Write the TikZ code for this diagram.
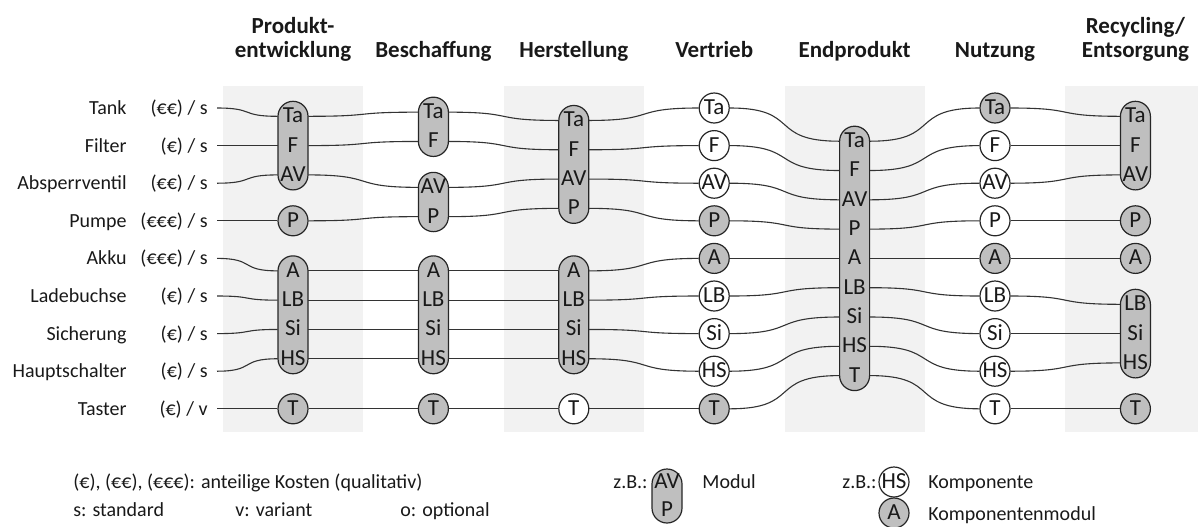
\documentclass[tikz,border=0pt]{standalone}
\usepackage{fontspec}
\setmainfont{Carlito}

\begin{document}
\begin{tikzpicture}[
  x=0.5pt, y=-0.5pt,
  every node/.style={font=\fontsize{10}{12}\selectfont, text=black!90},
  rowlabel/.style={anchor=east, inner sep=0, text height=.64em, text depth=0pt},
  legtext/.style={anchor=west, inner sep=0, text height=.64em, text depth=0pt},
  head/.style={font=\fontsize{11.5}{11.7}\selectfont\bfseries, align=center, inner sep=0},
  item/.style={minimum width=15pt, inner sep=0, text height=.64em, text depth=0pt,
               font=\fontsize{11.5}{12}\selectfont},
  comp/.style={circle, draw=black!85, line width=0.6pt, minimum size=15pt, inner sep=0,
               text height=.64em, text depth=0pt, font=\fontsize{11.5}{12}\selectfont},
  modbody/.style={draw=black!85, fill=nodegray, line width=0.6pt, rounded corners=7.5pt},
  wire/.style={draw=black!80, line width=0.55pt},
  swing/.style={out=0, in=180, looseness=1.6},
]

\definecolor{bandgray}{HTML}{F2F2F2}
\definecolor{nodegray}{HTML}{BFBFBF}

\useasboundingbox (0,0) rectangle (1198,526);

% ============================================================
% GRID
% ============================================================
\def\colA{293}      % x of first stage
\def\colstep{140.4} % stage spacing
\def\rowA{108}      % y of first part row
\def\rowstep{37.6}  % row spacing
\def\modstep{29.3}  % spacing of parts inside a module
\def\bandtop{86}
\def\bandbot{432}

% shaded stages (every other one)
\foreach \c in {1,3,5,7}{
  \pgfmathsetmacro{\bx}{\colA + (\c-1)*\colstep}
  \fill[bandgray] (\bx-70,\bandtop) rectangle (\bx+70,\bandbot);
}

% stage headers
\foreach \c/\txt in {
  1/{Produkt-\\entwicklung},
  2/Beschaffung,
  3/Herstellung,
  4/Vertrieb,
  5/Endprodukt,
  6/Nutzung,
  7/{Recycling/\\Entsorgung}}{
  \pgfmathsetmacro{\hx}{\colA + (\c-1)*\colstep}
  \node[head, anchor=base] (h\c) at (\hx, 57) {\txt};
}

% ============================================================
% PARTS
% row, key, name, cost, s/v
% ============================================================
\foreach \r/\k/\name/\eur/\sv in {
  0/Ta/Tank/€€/s,
  1/F/Filter/€/s,
  2/AV/Absperrventil/€€/s,
  3/P/Pumpe/€€€/s,
  4/A/Akku/€€€/s,
  5/LB/Ladebuchse/€/s,
  6/Si/Sicherung/€/s,
  7/HS/Hauptschalter/€/s,
  8/T/Taster/€/v}{
  \pgfmathsetmacro{\ry}{\rowA + \r*\rowstep}
  \node[rowlabel] (name-\k) at (127, \ry) {\name};
  \node[rowlabel] (cost-\k) at (208, \ry) {(\eur) / \sv};
  \coordinate (s-\k) at (217, \ry);
}

% ============================================================
% MODULES
% stage, centre row, number of parts, parts
% ============================================================
\foreach \c/\r/\n/\items in {
  1/1/3/{Ta,F,AV},
  1/5.5/4/{A,LB,Si,HS},
  2/0.5/2/{Ta,F},
  2/2.5/2/{AV,P},
  2/5.5/4/{A,LB,Si,HS},
  3/1.5/4/{Ta,F,AV,P},
  3/5.5/4/{A,LB,Si,HS},
  5/4/9/{Ta,F,AV,P,A,LB,Si,HS,T},
  7/1/3/{Ta,F,AV},
  7/6/3/{LB,Si,HS}}{
  \pgfmathsetmacro{\mx}{\colA + (\c-1)*\colstep}
  \pgfmathsetmacro{\my}{\rowA + \r*\rowstep}
  \pgfmathsetmacro{\mh}{(\n-1)/2*\modstep + 15}
  \filldraw[modbody] (\mx-15, \my-\mh) rectangle (\mx+15, \my+\mh);
  \foreach \itm [count=\i] in \items {
    \pgfmathsetmacro{\iy}{\my + (\i-1-(\n-1)/2)*\modstep}
    \node[item] (c\c-\itm) at (\mx, \iy) {\itm};
  }
}

% ============================================================
% SINGLE COMPONENTS
% stage, key, row, fill
% ============================================================
\foreach \c/\k/\r/\f in {
  1/P/3/nodegray, 1/T/8/nodegray,
  2/T/8/nodegray,
  3/T/8/white,
  4/Ta/0/white, 4/F/1/white, 4/AV/2/white, 4/P/3/nodegray, 4/A/4/nodegray,
  4/LB/5/white, 4/Si/6/white, 4/HS/7/white, 4/T/8/nodegray,
  6/Ta/0/nodegray, 6/F/1/white, 6/AV/2/white, 6/P/3/white, 6/A/4/nodegray,
  6/LB/5/white, 6/Si/6/white, 6/HS/7/white, 6/T/8/white,
  7/P/3/nodegray, 7/A/4/nodegray, 7/T/8/nodegray}{
  \node[comp, fill=\f] (c\c-\k)
    at ({\colA + (\c-1)*\colstep}, {\rowA + \r*\rowstep}) {\k};
}

% ============================================================
% FLOW LINES
% ============================================================
\foreach \k in {Ta,F,AV,P,A,LB,Si,HS,T}{
  \draw[wire] (s-\k) to[swing] (c1-\k.west);
  \foreach \a/\b in {1/2,2/3,3/4,4/5,5/6,6/7}
    \draw[wire] (c\a-\k.east) to[swing] (c\b-\k.west);
}

% ============================================================
% LEGEND
% ============================================================
\node[legtext] (leg-cost) at (73,482) {(€), (€€), (€€€): anteilige Kosten (qualitativ)};
\node[legtext] (leg-s) at (73,510) {s: standard};
\node[legtext] (leg-v) at (235,510) {v: variant};
\node[legtext] (leg-o) at (400,510) {o: optional};

\filldraw[modbody] (652,469) rectangle (682,523);
\node[item] (leg-AV) at (667,482) {AV};
\node[item] (leg-P) at (667,510) {P};
\node[legtext, anchor=east] (leg-zb1) at (648,482) {z.B.:};
\node[legtext] (leg-mod) at (702,482) {Modul};

\node[comp, fill=white] (leg-HS) at (894,482) {HS};
\node[legtext, anchor=east] (leg-zb2) at (877,482) {z.B.:};
\node[legtext] (leg-komp) at (928,482) {Komponente};
\node[comp, fill=nodegray] (leg-A) at (894,513) {A};
\node[legtext] (leg-kmod) at (928,514) {Komponentenmodul};

\end{tikzpicture}
\end{document}
